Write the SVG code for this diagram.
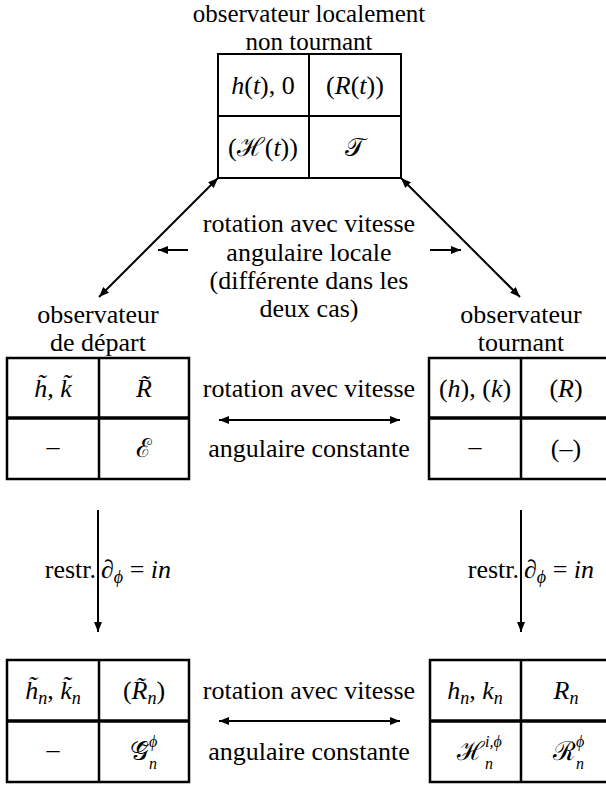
<svg xmlns="http://www.w3.org/2000/svg" width="606" height="787" viewBox="0 0 606 787" font-family="Liberation Serif" font-size="26">
<defs>
<style>
text { fill: #000; text-anchor: middle; }
.i { font-style: italic; }
.s { font-size: 18px; }
.ss { font-size: 16px; font-style: italic; }
.t { font-size: 25px; }
.st { text-anchor: start; }
.en { text-anchor: end; }
.box { fill: #fff; stroke: #000; stroke-width: 2.5; }
.thin { stroke-width: 2; }
.ln { stroke: #000; stroke-width: 2.5; }
.dl { stroke: #000; stroke-width: 3.5; }
.con { stroke: #000; stroke-width: 2; fill: none; }
</style>
<marker id="ah" viewBox="0 0 10 8" refX="10" refY="4" markerWidth="10" markerHeight="8" markerUnits="userSpaceOnUse" orient="auto-start-reverse">
<path d="M0,0 L10,4 L0,8 z" fill="#000"/>
</marker>
</defs>
<rect width="606" height="787" fill="#fff"/>

<g id="connectors">
<line class="con" x1="99" y1="297" x2="218" y2="178" marker-start="url(#ah)" marker-end="url(#ah)"/>
<line class="con" x1="401" y1="178" x2="520" y2="297" marker-start="url(#ah)" marker-end="url(#ah)"/>
<line class="con" x1="188" y1="250" x2="158" y2="250" marker-end="url(#ah)"/>
<line class="con" x1="430" y1="250" x2="461" y2="250" marker-end="url(#ah)"/>
<line class="con" x1="219" y1="420" x2="400" y2="420" marker-start="url(#ah)" marker-end="url(#ah)"/>
<line class="con" x1="219" y1="721" x2="400" y2="721" marker-start="url(#ah)" marker-end="url(#ah)"/>
<line class="con" x1="98" y1="510" x2="98" y2="632" marker-end="url(#ah)"/>
<line class="con" x1="521" y1="510" x2="521" y2="632" marker-end="url(#ah)"/>
<text x="309" y="232">rotation avec vitesse</text>
<text x="309" y="261">angulaire locale</text>
<text x="309" y="289">(différente dans les</text>
<text x="309" y="317">deux cas)</text>
<text x="309" y="397">rotation avec vitesse</text>
<text x="309" y="457">angulaire constante</text>
<text x="309" y="699">rotation avec vitesse</text>
<text x="309" y="760">angulaire constante</text>
<text class="en" x="96" y="578">restr.</text>
<text class="st" x="101" y="578"><tspan class="i">∂</tspan><tspan class="s i" dy="5">ϕ</tspan><tspan dy="-5"> = </tspan><tspan class="i">in</tspan></text>
<text class="en" x="519" y="578">restr.</text>
<text class="st" x="524" y="578"><tspan class="i">∂</tspan><tspan class="s i" dy="5">ϕ</tspan><tspan dy="-5"> = </tspan><tspan class="i">in</tspan></text>
</g>

<g id="node-top">
<text class="t" x="309" y="22">observateur localement</text>
<text class="t" x="309" y="50">non tournant</text>
<rect class="box thin" x="218" y="54" width="183" height="124"/>
<line class="ln" x1="309" y1="54" x2="309" y2="178" style="stroke-width:2"/>
<line class="ln" x1="218" y1="116" x2="401" y2="116" style="stroke-width:2"/>
<text x="263" y="94"><tspan class="i">h</tspan>(<tspan class="i">t</tspan>), 0</text>
<text x="355" y="94">(<tspan class="i">R</tspan>(<tspan class="i">t</tspan>))</text>
<text x="263" y="156">(ℋ(<tspan class="i">t</tspan>))</text>
<text x="355" y="156">𝒯</text>
</g>

<g id="node-depart">
<text x="98" y="323">observateur</text>
<text x="98" y="351">de départ</text>
<rect class="box" x="7" y="358" width="182" height="121"/>
<line class="ln" x1="99" y1="358" x2="99" y2="479"/>
<line class="dl" x1="7" y1="418" x2="189" y2="418"/>
<text class="i" x="53" y="397">h̃, k̃</text>
<text class="i" x="144" y="397">R̃</text>
<text x="53" y="455">–</text>
<text x="144" y="457">ℰ</text>
</g>

<g id="node-tournant">
<text x="521" y="323">observateur</text>
<text x="521" y="351">tournant</text>
<rect class="box" x="429" y="358" width="184" height="121"/>
<line class="ln" x1="521" y1="358" x2="521" y2="479"/>
<line class="dl" x1="429" y1="418" x2="613" y2="418"/>
<text x="475" y="397">(<tspan class="i">h</tspan>), (<tspan class="i">k</tspan>)</text>
<text x="566" y="397">(<tspan class="i">R</tspan>)</text>
<text x="475" y="455">–</text>
<text x="566" y="457">(–)</text>
</g>

<g id="node-depart-n">
<rect class="box" x="7" y="660" width="182" height="122"/>
<line class="ln" x1="99" y1="660" x2="99" y2="782"/>
<line class="dl" x1="7" y1="721" x2="189" y2="721"/>
<text x="53" y="699"><tspan class="i">h̃</tspan><tspan class="s i" dy="5">n</tspan><tspan dy="-5">, </tspan><tspan class="i">k̃</tspan><tspan class="s i" dy="5">n</tspan></text>
<text x="144" y="699">(<tspan class="i">R̃</tspan><tspan class="s i" dy="5">n</tspan><tspan dy="-5">)</tspan></text>
<text x="53" y="758">–</text>
<text class="st" x="130" y="760">𝒢̃<tspan class="ss" dy="9">n</tspan><tspan class="ss" dx="-8" dy="-22">ϕ</tspan></text>
</g>

<g id="node-tournant-n">
<rect class="box" x="430" y="660" width="183" height="122"/>
<line class="ln" x1="521" y1="660" x2="521" y2="782"/>
<line class="dl" x1="430" y1="721" x2="613" y2="721"/>
<text x="475" y="699"><tspan class="i">h</tspan><tspan class="s i" dy="5">n</tspan><tspan dy="-5">, </tspan><tspan class="i">k</tspan><tspan class="s i" dy="5">n</tspan></text>
<text x="566" y="699"><tspan class="i">R</tspan><tspan class="s i" dy="5">n</tspan></text>
<text class="st" x="457" y="760">ℋ<tspan class="ss" dy="9">n</tspan><tspan class="ss" dx="-8" dy="-22">i,ϕ</tspan></text>
<text class="st" x="553" y="760">ℛ<tspan class="ss" dy="9">n</tspan><tspan class="ss" dx="-8" dy="-22">ϕ</tspan></text>
</g>
</svg>
